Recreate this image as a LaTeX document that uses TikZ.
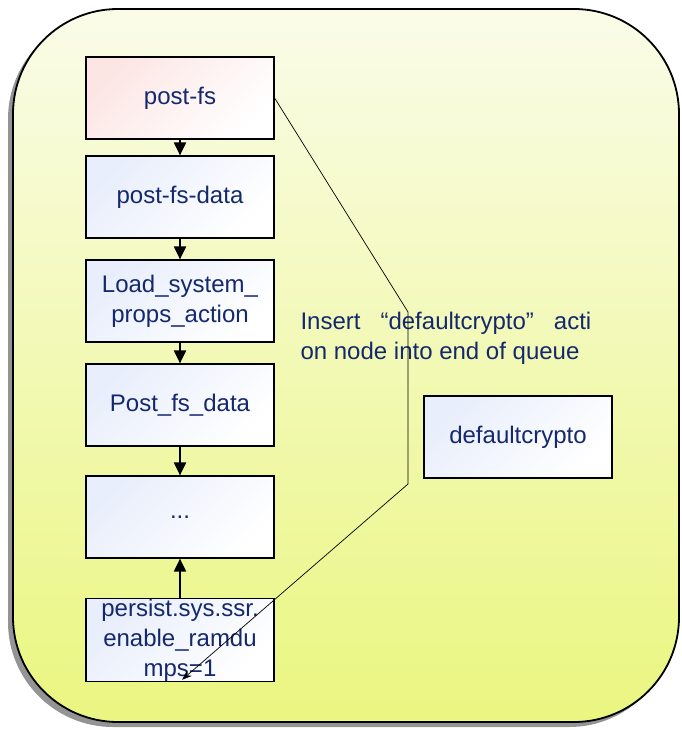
\documentclass[tikz,border=0pt]{standalone}
\usepackage{fontspec}
\setmainfont{Liberation Sans}
\usepackage{tikz}
\usetikzlibrary{arrows.meta}
\usetikzlibrary{shadows}
\usetikzlibrary{positioning}
\definecolor{textblue}{RGB}{20,40,110}
\definecolor{panetop}{RGB}{250,252,232}
\definecolor{panebot}{RGB}{234,246,128}
\definecolor{boxblue}{RGB}{232,238,251}
\definecolor{boxpink}{RGB}{252,230,228}
\tikzstyle{queue_item}=[draw=black, line width=1.2pt,
    top color=boxblue, bottom color=white, shading angle=45, text=textblue,
    minimum width=188pt, minimum height=82pt, inner sep=0pt, align=center,
    font=\fontsize{24}{30}\selectfont]
\tikzstyle{queue_head}=[queue_item, top color=boxpink, bottom color=white, shading angle=45]
\tikzstyle{queue_step}=[line width=2pt, -{Triangle[length=13pt,width=12pt]}]

\begin{document}
\begin{tikzpicture}[x=1pt,y=-1pt]
              \useasboundingbox (0,0) rectangle (681,730);
              \draw[line width=1.8pt, rounded corners=105pt, top color=panetop, bottom color=panebot,
                    drop shadow={shadow xshift=-5pt, shadow yshift=-5pt, fill=black!70, opacity=.6}]
                    (13,9) rectangle (679,722);
              \node[queue_head] (postfs) at (180,98){post-fs};
              \node[queue_item] (postfsdata) at (180,197){post-fs-data};
              \node[queue_item] (loadprops) at (180,301){Load\_system\_\\props\_action};
              \node[queue_item] (postfsdata2) at (180,405){Post\_fs\_data};
              \node[queue_item] (dots) at (180,517){...};
              \node[queue_item] (persist) at (180,640){persist.sys.ssr.\\enable\_ramdu\\mps=1};
              \node[queue_item] (defaultcrypto) at (518,437){defaultcrypto};
              \node[text=textblue, anchor=west, align=left, font=\fontsize{24}{30}\selectfont] (insertnote) at (297,338)
                    {Insert\hspace{20pt}“defaultcrypto”\hspace{20pt}acti\\on node into end of queue};
              \draw[queue_step](postfs) -- (postfsdata);
              \draw[queue_step](postfsdata) -- (loadprops);
              \draw[queue_step](loadprops) -- (postfsdata2);
              \draw[queue_step](postfsdata2) -- (dots);
              \draw[queue_step](persist) -- (dots);
              \coordinate (bendtop) at (408,312);
              \coordinate (bendlow) at (408,484);
              \draw[line width=.7pt, -{Stealth[length=10pt,width=7pt]}](postfs.east) -- (bendtop) -- (bendlow) -- ([xshift=2pt,yshift=2pt]persist.south);
            \end{tikzpicture}
\end{document}
